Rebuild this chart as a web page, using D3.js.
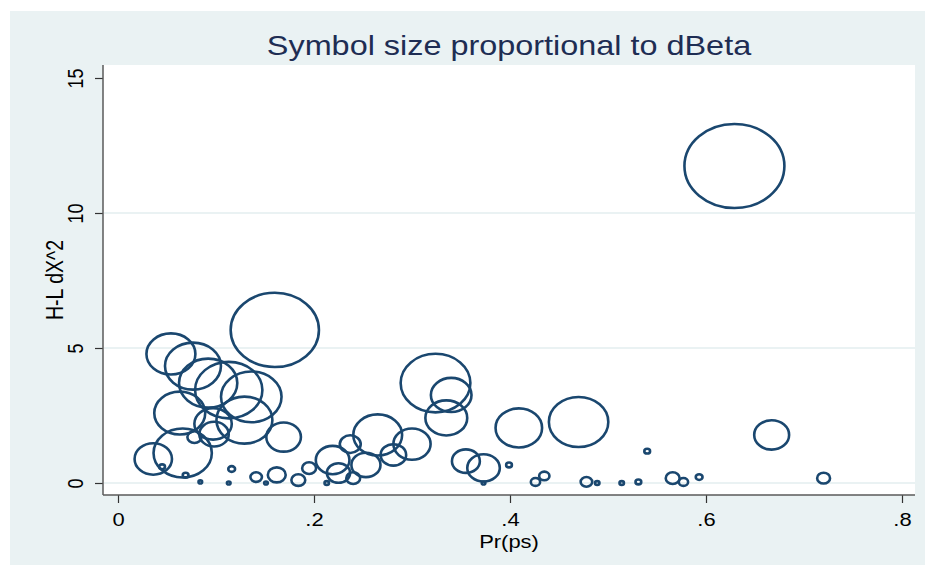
<!DOCTYPE html>
<html>
<head>
<meta charset="utf-8">
<script src="https://cdn.jsdelivr.net/npm/d3@7"></script>
<style>
  html, body { margin: 0; padding: 0; background: #ffffff; }
  svg { display: block; }
  text { font-family: "Liberation Sans", Arial, sans-serif; }
</style>
</head>
<body>
<svg id="chart" width="925" height="566"></svg>
<script>
// Predicted probability for each covariate pattern
const prPs = [
  0.629, 0.160, 0.054, 0.0765, 0.092, 0.113, 0.136, 0.063, 0.129, 0.097,
  0.098, 0.169, 0.078, 0.066, 0.036, 0.045, 0.069, 0.084, 0.116, 0.113,
  0.141, 0.151, 0.162, 0.184, 0.195, 0.219, 0.213, 0.225, 0.237, 0.240,
  0.253, 0.265, 0.281, 0.300, 0.324, 0.340, 0.335, 0.355, 0.373, 0.373,
  0.399, 0.409, 0.426, 0.435, 0.470, 0.478, 0.489, 0.514, 0.531, 0.540,
  0.566, 0.577, 0.593, 0.667, 0.720
];
// Hosmer-Lemeshow change in chi-square
const hlDX2 = [
  11.74, 5.67, 4.78, 4.33, 3.70, 3.44, 3.19, 2.59, 2.33, 2.19,
  1.81, 1.70, 1.70, 1.11, 0.89, 0.60, 0.29, 0.04, 0.52, 0.00,
  0.22, 0.00, 0.30, 0.11, 0.55, 0.85, 0.00, 0.37, 1.44, 0.18,
  0.67, 1.78, 1.04, 1.44, 3.70, 3.26, 2.41, 0.81, 0.56, 0.00,
  0.67, 2.04, 0.04, 0.26, 2.26, 0.04, 0.00, 0.00, 0.04, 1.18,
  0.18, 0.04, 0.22, 1.78, 0.18
];
// Pregibon dBeta (symbol weight)
const dBeta = [
  1.50, 1.17, 0.36, 0.47, 0.51, 0.68, 0.55, 0.39, 0.47, 0.21,
  0.13, 0.18, 0.03, 0.51, 0.21, 0.005, 0.005, 0.002, 0.007, 0.002,
  0.02, 0.002, 0.048, 0.029, 0.029, 0.17, 0.003, 0.081, 0.066, 0.029,
  0.127, 0.358, 0.098, 0.208, 0.73, 0.248, 0.263, 0.117, 0.159, 0.002,
  0.005, 0.325, 0.013, 0.016, 0.53, 0.02, 0.003, 0.003, 0.005, 0.005,
  0.029, 0.013, 0.007, 0.183, 0.025
];

const xTicks = [0, 0.2, 0.4, 0.6, 0.8];
const yTicks = [0, 5, 10, 15];
const xTickLabels = ["0", ".2", ".4", ".6", ".8"];
const yTickLabels = ["0", "5", "10", "15"];

const titleText = "Symbol size proportional to dBeta";
const xTitle = "Pr(ps)";
const yTitle = "H-L dX^2";

const W = 925, H = 566;
const plot = { left: 103, right: 915, top: 65, bottom: 495 };
const navy = "#1a476f";
const bgCol = "#eaf2f3";
const sx = 1.22; // horizontal stretch of the graph's lettering

const svg = d3.select("#chart");

// outer graph region
svg.append("rect")
  .attr("x", 10).attr("y", 11)
  .attr("width", W - 10).attr("height", 554)
  .attr("fill", bgCol);

// plot region
svg.append("rect")
  .attr("x", plot.left).attr("y", plot.top)
  .attr("width", plot.right - plot.left).attr("height", plot.bottom - plot.top)
  .attr("fill", "#ffffff");

const x = d3.scaleLinear().domain([0, 0.8]).range([118, 902]);
const y = d3.scaleLinear().domain([0, 15]).range([483, 78]);
const r = d3.scaleSqrt().domain([0, 1.5]).range([0, 42]);

// horizontal grid lines
svg.append("g")
  .selectAll("line")
  .data(yTicks.filter(v => v < 15))
  .join("line")
  .attr("x1", plot.left + 1).attr("x2", plot.right)
  .attr("y1", d => y(d)).attr("y2", d => y(d))
  .attr("stroke", bgCol)
  .attr("stroke-width", 2);

// x axis
const xAxis = d3.axisBottom(x)
  .tickValues(xTicks)
  .tickFormat((d, i) => xTickLabels[i])
  .tickSize(8)
  .tickSizeOuter(0);
const gx = svg.append("g")
  .attr("transform", `translate(0,${plot.bottom})`)
  .call(xAxis);
gx.select(".domain").remove();
gx.append("line")
  .attr("x1", plot.left).attr("x2", plot.right)
  .attr("y1", 0).attr("y2", 0)
  .attr("stroke", "#5a5a5a").attr("stroke-width", 1.5);
gx.selectAll(".tick line").attr("stroke", "#333").attr("stroke-width", 1.2);
gx.selectAll(".tick text")
  .attr("y", 0).attr("dy", null)
  .attr("transform", `translate(0,31) scale(${sx},1)`)
  .attr("fill", "#000")
  .style("font-size", "18px");

// y axis
const yAxis = d3.axisLeft(y)
  .tickValues(yTicks)
  .tickFormat((d, i) => yTickLabels[i])
  .tickSize(8)
  .tickSizeOuter(0);
const gy = svg.append("g")
  .attr("transform", `translate(${plot.left},0)`)
  .call(yAxis);
gy.select(".domain").remove();
gy.append("line")
  .attr("x1", 0).attr("x2", 0)
  .attr("y1", plot.top).attr("y2", plot.bottom)
  .attr("stroke", "#5a5a5a").attr("stroke-width", 1.5);
gy.selectAll(".tick line").attr("stroke", "#333").attr("stroke-width", 1.2);
gy.selectAll(".tick text")
  .attr("x", null).attr("dy", null)
  .attr("text-anchor", "middle")
  .attr("transform", `translate(-20,0) scale(${sx},1) rotate(-90)`)
  .attr("fill", "#000")
  .style("font-size", "18px");

// axis titles
svg.append("text")
  .attr("transform", `translate(${(plot.left + plot.right) / 2},548) scale(${sx},1)`)
  .attr("text-anchor", "middle")
  .attr("fill", "#000")
  .style("font-size", "18px")
  .text(xTitle);

svg.append("text")
  .attr("transform", `translate(63,${(plot.top + plot.bottom) / 2}) scale(${sx},1) rotate(-90)`)
  .attr("text-anchor", "middle")
  .attr("fill", "#000")
  .style("font-size", "19.5px")
  .text(yTitle);

// title
svg.append("text")
  .attr("transform", `translate(${(plot.left + plot.right) / 2},55) scale(1.2,1)`)
  .attr("text-anchor", "middle")
  .attr("fill", "#1e2d53")
  .style("font-size", "27px")
  .text(titleText);

// weighted symbols (hollow, slightly wider than tall)
const pts = prPs.map((p, i) => ({ p, h: hlDX2[i], w: dBeta[i] }));
svg.append("g")
  .selectAll("ellipse")
  .data(pts)
  .join("ellipse")
  .attr("cx", d => x(d.p))
  .attr("cy", d => y(d.h))
  .attr("rx", d => Math.max(r(d.w) * 1.19, 1.2))
  .attr("ry", d => Math.max(r(d.w), 1.2))
  .attr("fill", "none")
  .attr("stroke", navy)
  .attr("stroke-width", 2.6);
</script>
</body>
</html>
